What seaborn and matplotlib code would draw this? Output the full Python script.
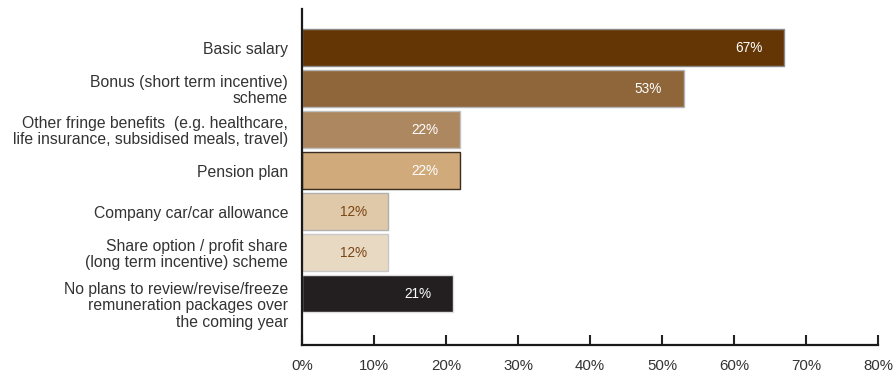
import matplotlib
matplotlib.use("Agg")
import matplotlib.pyplot as plt
import matplotlib.transforms as mtransforms
import seaborn as sns
import pandas as pd

categories = [
    "Basic salary",
    "Bonus (short term incentive)\nscheme",
    "Other fringe benefits  (e.g. healthcare,\nlife insurance, subsidised meals, travel)",
    "Pension plan",
    "Company car/car allowance",
    "Share option / profit share\n(long term incentive) scheme",
    "No plans to review/revise/freeze\nremuneration packages over\nthe coming year",
]
values = [67, 53, 22, 22, 12, 12, 21]
bar_colors = ["#643605", "#8f653a", "#ad875f", "#d1aa7b", "#e0c9a9", "#e8d9c3", "#231f20"]
edge_colors = ["#8a8a8a", "#b5b5b5", "#c0c0c0", "#3a2c1e", "#b0b0b0", "#c8c8c8", "#e0e0e0"]
label_colors = ["white", "white", "white", "white", "#7a4514", "#7a4514", "white"]
x_ticks = [0, 10, 20, 30, 40, 50, 60, 70, 80]
x_tick_labels = ["0%", "10%", "20%", "30%", "40%", "50%", "60%", "70%", "80%"]

df = pd.DataFrame({"category": categories, "value": values})

sns.set_theme(style="white")
plt.rcParams["font.family"] = ["Liberation Sans", "DejaVu Sans"]

fig = plt.figure(figsize=(8.95, 3.76), dpi=100)
ax = fig.add_axes([0.3374, 0.0824, 0.6436, 0.8936])

sns.barplot(data=df, y="category", x="value", hue="category",
            palette=bar_colors, legend=False, orient="h", width=0.9,
            saturation=1, ax=ax)

for patch, ec in zip(ax.patches, edge_colors):
    patch.set_edgecolor(ec)
    patch.set_linewidth(1.0)

for i, (v, c) in enumerate(zip(values, label_colors)):
    ax.text(v - 4.9, i, f"{v}%", ha="center", va="center",
            color=c, fontsize=9.8)

ax.set_xlim(0, 80)
ax.set_ylim(7.256, -0.94)
ax.set_xticks(x_ticks)
ax.set_xticklabels(x_tick_labels, fontsize=10.8, color="#333333")
ax.set_xlabel("")
ax.set_ylabel("")

ax.tick_params(axis="x", direction="in", length=7, width=1.5,
               color="#222222", pad=10, bottom=True)
ax.tick_params(axis="y", length=0, pad=10)
for lbl in ax.get_yticklabels():
    lbl.set_fontsize(11.3)
    lbl.set_color("#333333")
    lbl.set_multialignment("right")
    lbl.set_linespacing(1.12)

# the last multi-line label sits a little lower than its bar
last = ax.get_yticklabels()[-1]
last.set_transform(last.get_transform() +
                   mtransforms.ScaledTranslation(0, -10 / 100, fig.dpi_scale_trans))

for side in ["top", "right"]:
    ax.spines[side].set_visible(False)
for side in ["left", "bottom"]:
    ax.spines[side].set_visible(True)
    ax.spines[side].set_color("#1a1a1a")
    ax.spines[side].set_linewidth(1.6)

fig.savefig("out.png", dpi=100, facecolor="white")
